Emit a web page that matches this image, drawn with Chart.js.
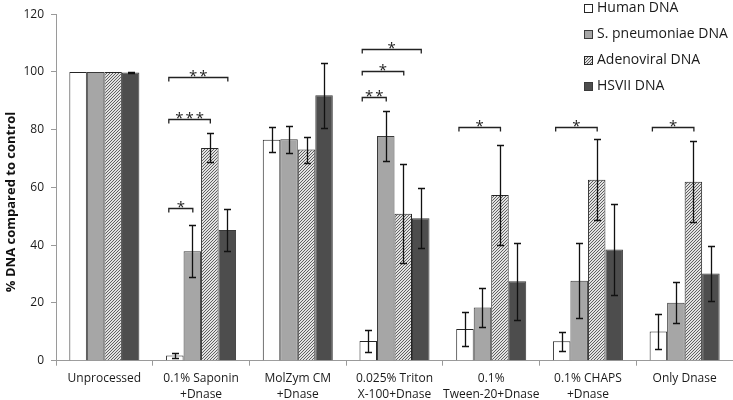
<!DOCTYPE html>
<html>
<head>
<meta charset="utf-8">
<script src="https://cdn.jsdelivr.net/npm/chart.js@4"></script>
<style>
  html, body { margin: 0; padding: 0; background: #fff; }
  #wrap { width: 733px; height: 400px; position: relative; }
</style>
</head>
<body>
<div id="wrap"><canvas id="chart" width="733" height="400"></canvas></div>
<script>
const categories = [
  "Unprocessed",
  ["0.1% Saponin", "+Dnase"],
  ["MolZym CM", "+Dnase"],
  ["0.025% Triton", "X-100+Dnase"],
  ["0.1%", "Tween-20+Dnase"],
  ["0.1% CHAPS", "+Dnase"],
  "Only Dnase"
];

const seriesNames = ["Human DNA", "S. pneumoniae DNA", "Adenoviral DNA", "HSVII DNA"];

const humanDNA = [100, 1.8, 76.5, 6.8, 11.0, 6.7, 10.1];
const pneumoDNA = [100, 37.9, 76.7, 77.8, 18.4, 27.7, 20.1];
const adenoDNA = [100, 73.7, 73.1, 50.9, 57.4, 62.7, 62.0];
const hsvDNA = [99.8, 45.3, 91.9, 49.3, 27.5, 38.5, 30.2];

const humanErr = [0, 0.8, 4.3, 3.9, 6.0, 3.3, 6.0];
const pneumoErr = [0, 9.0, 4.7, 8.8, 6.8, 12.9, 7.0];
const adenoErr = [0, 5.0, 4.5, 17.1, 17.4, 14.1, 14.1];
const hsvErr = [0.2, 7.2, 11.2, 10.4, 13.4, 15.9, 9.6];

// significance brackets: category, from series, to series, height, stars
const brackets = [
  [1, 0, 1, 53, "*"],
  [1, 0, 2, 83.7, "***"],
  [1, 0, 3, 98.1, "**"],
  [3, 0, 1, 91.4, "**"],
  [3, 0, 2, 100.3, "*"],
  [3, 0, 3, 108, "*"],
  [4, 0, 2, 80.8, "*"],
  [5, 0, 2, 80.8, "*"],
  [6, 0, 2, 80.8, "*"]
];

const errors = [humanErr, pneumoErr, adenoErr, hsvErr];

// fine hatched fill for the adenoviral series
const makeHatch = () => {
  const c = document.createElement("canvas");
  c.width = 3;
  c.height = 3;
  const g = c.getContext("2d");
  g.fillStyle = "#e2e2e2";
  g.fillRect(0, 0, 3, 3);
  g.fillStyle = "#606060";
  for (let i = 0; i < 3; i++) g.fillRect(i, 2 - i, 1, 1);
  return g.createPattern(c, "repeat");
};
const hatch = makeHatch();

const fills = ["#ffffff", "#a6a6a6", hatch, "#4d4d4d"];
const borders = ["#262626", "#3a3a3a", "#262626", "#3a3a3a"];

const errorBars = {
  id: "errorBars",
  afterDatasetsDraw(chart) {
    const ctx = chart.ctx;
    const y = chart.scales.y;
    ctx.save();
    ctx.strokeStyle = "#111";
    ctx.lineWidth = 1.3;
    chart.data.datasets.forEach((ds, i) => {
      const meta = chart.getDatasetMeta(i);
      meta.data.forEach((bar, j) => {
        const e = errors[i][j];
        if (!e) return;
        const v = ds.data[j];
        const top = Math.round(y.getPixelForValue(v + e)) + 0.5;
        const bot = Math.round(y.getPixelForValue(v - e)) + 0.5;
        const x = Math.round(bar.x) + 0.5;
        ctx.beginPath();
        ctx.moveTo(x, top);
        ctx.lineTo(x, bot);
        ctx.moveTo(x - 3.5, top);
        ctx.lineTo(x + 3.5, top);
        ctx.moveTo(x - 3.5, bot);
        ctx.lineTo(x + 3.5, bot);
        ctx.stroke();
      });
    });
    ctx.restore();
  }
};

const sigBrackets = {
  id: "sigBrackets",
  afterDatasetsDraw(chart) {
    const ctx = chart.ctx;
    const y = chart.scales.y;
    ctx.save();
    ctx.strokeStyle = "#222";
    ctx.fillStyle = "#222";
    ctx.lineWidth = 1.3;
    ctx.font = "15px 'Open Sans'";
    ctx.textAlign = "center";
    ctx.textBaseline = "alphabetic";
    ctx.letterSpacing = "2px";
    brackets.forEach(([cat, from, to, h, stars]) => {
      const x1 = chart.getDatasetMeta(from).data[cat].x - 6;
      const x2 = chart.getDatasetMeta(to).data[cat].x + 0.5;
      const yy = Math.round(y.getPixelForValue(h)) + 0.5;
      ctx.beginPath();
      ctx.moveTo(x1, yy + 4);
      ctx.lineTo(x1, yy);
      ctx.lineTo(x2, yy);
      ctx.lineTo(x2, yy + 4);
      ctx.stroke();
      ctx.fillText(stars, (x1 + x2) / 2 + 1, yy + 3);
    });
    ctx.restore();
  }
};

const sideParts = {
  id: "sideParts",
  afterDraw(chart) {
    const ctx = chart.ctx;
    ctx.save();
    // y axis title
    ctx.fillStyle = "#111";
    ctx.font = "bold 13px 'Open Sans'";
    ctx.textAlign = "center";
    ctx.textBaseline = "middle";
    ctx.translate(11, 202);
    ctx.rotate(-Math.PI / 2);
    ctx.fillText("% DNA compared to control", 0, 0);
    ctx.restore();

    // legend
    ctx.save();
    ctx.font = "14px 'Open Sans'";
    ctx.textBaseline = "middle";
    ctx.textAlign = "left";
    seriesNames.forEach((name, i) => {
      const cy = 8.5 + 26 * i;
      ctx.fillStyle = fills[i];
      ctx.fillRect(584, cy - 4.5, 9, 9);
      ctx.strokeStyle = borders[i];
      ctx.lineWidth = 1;
      ctx.strokeRect(584.5, cy - 4, 8, 8);
      ctx.fillStyle = "#1a1a1a";
      ctx.fillText(name, 597, cy);
    });
    ctx.restore();
  }
};

new Chart(document.getElementById("chart"), {
  type: "bar",
  data: {
    labels: categories,
    datasets: [humanDNA, pneumoDNA, adenoDNA, hsvDNA].map((d, i) => ({
      label: seriesNames[i],
      data: d,
      backgroundColor: fills[i],
      borderColor: borders[i],
      borderWidth: 1,
      categoryPercentage: 0.724,
      barPercentage: 1
    }))
  },
  options: {
    responsive: false,
    animation: false,
    layout: { padding: { left: 0, top: 2, right: 0, bottom: 0 } },
    plugins: {
      legend: { display: false },
      tooltip: { enabled: false }
    },
    scales: {
      x: {
        offset: true,
        grid: { drawOnChartArea: false, drawTicks: true, tickLength: 5, color: "#9a9a9a", offset: true },
        border: { color: "#9a9a9a" },
        ticks: {
          color: "#1a1a1a",
          font: { family: "'Open Sans'", size: 12, lineHeight: 1.35 },
          padding: 5,
          maxRotation: 0,
          autoSkip: false
        },
        afterFit(scale) { scale.height = 39.3; }
      },
      y: {
        min: 0,
        max: 120,
        grid: { drawOnChartArea: false, drawTicks: true, tickLength: 5, color: "#9a9a9a" },
        border: { color: "#9a9a9a" },
        ticks: {
          stepSize: 20,
          color: "#1a1a1a",
          font: { family: "'Open Sans'", size: 12 },
          padding: 7
        },
        afterFit(scale) { scale.width = 56; }
      }
    }
  },
  plugins: [errorBars, sigBrackets, sideParts]
});
</script>
</body>
</html>
